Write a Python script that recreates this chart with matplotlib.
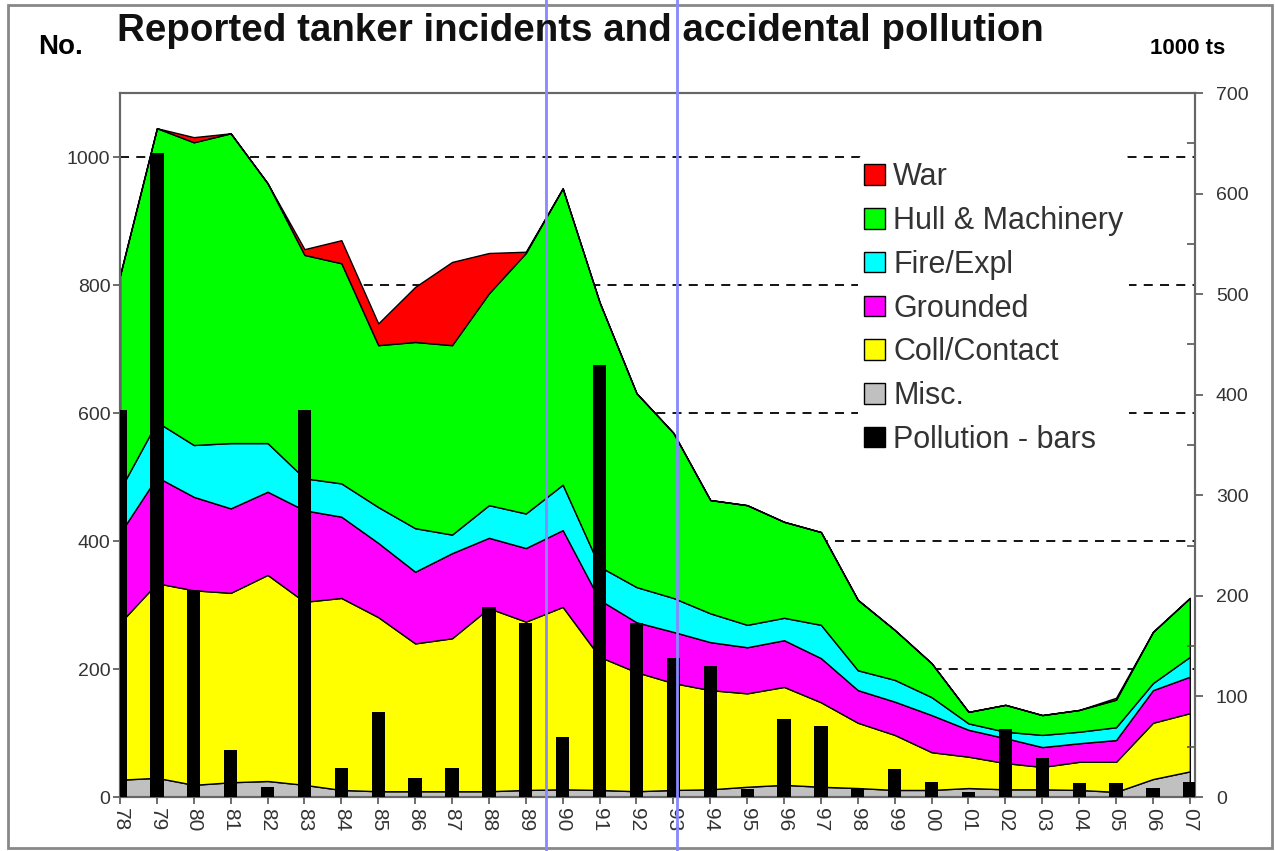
import matplotlib
matplotlib.use("Agg")
import matplotlib.pyplot as plt
from matplotlib.patches import Patch, Rectangle
from matplotlib.lines import Line2D
import numpy as np

plt.rcParams['font.family'] = ['Liberation Sans', 'DejaVu Sans']

years = ['78', '79', '80', '81', '82', '83', '84', '85', '86', '87', '88', '89', '90', '91', '92',
         '93', '94', '95', '96', '97', '98', '99', '00', '01', '02', '03', '04', '05', '06', '07']

misc = [27, 30, 19, 23, 25, 19, 11, 9, 9, 9, 9, 11, 12, 11, 9,
        11, 12, 16, 19, 16, 14, 11, 11, 14, 12, 12, 11, 8, 28, 40]
coll_contact = [245, 304, 304, 296, 322, 286, 300, 272, 231, 239, 286, 263, 285, 208, 186,
                167, 155, 146, 153, 132, 102, 86, 59, 49, 41, 35, 44, 47, 88, 91]
grounded = [140, 166, 146, 132, 130, 143, 127, 116, 112, 133, 110, 115, 120, 89, 78,
            80, 75, 72, 73, 69, 51, 52, 58, 42, 39, 31, 29, 34, 51, 57]
fire_expl = [68, 86, 81, 102, 76, 50, 52, 56, 68, 29, 51, 54, 71, 52, 55,
             53, 45, 35, 35, 52, 31, 34, 28, 10, 10, 19, 18, 20, 11, 31]
hull_machinery = [335, 459, 473, 484, 406, 349, 344, 253, 291, 296, 331, 407, 463, 413, 303,
                  258, 177, 187, 150, 145, 110, 78, 53, 18, 42, 31, 34, 43, 80, 92]
war = [0, 0, 8, 0, 0, 9, 36, 34, 86, 130, 63, 2, 0, 0, 0,
       0, 0, 0, 0, 0, 0, 0, 0, 0, 0, 0, 0, 3, 0, 0]
pollution = [385, 640, 206, 47, 10, 385, 29, 85, 19, 29, 189, 173, 60, 430, 173,
             138, 130, 8, 78, 71, 9, 28, 15, 5, 68, 39, 14, 14, 9, 15]

layer_names = ['Misc.', 'Coll/Contact', 'Grounded', 'Fire/Expl', 'Hull & Machinery', 'War']
layer_colors = ['#c0c0c0', '#ffff00', '#ff00ff', '#00ffff', '#00ff00', '#ff0000']

W, H = 1275, 851
fig = plt.figure(figsize=(W / 100, H / 100), dpi=100)

x = np.arange(len(years))
ax = fig.add_axes([120 / W, 1 - 797 / H, (1195 - 120) / W, (797 - 93) / H])
ax.stackplot(x, misc, coll_contact, grounded, fire_expl, hull_machinery, war,
             colors=layer_colors, edgecolor='black', linewidth=1.0, zorder=2)
ax.set_xlim(0, 29.14)
ax.set_ylim(0, 1100)
ax.set_yticks([0, 200, 400, 600, 800, 1000])
ax.set_axisbelow(True)
ax.yaxis.grid(True, linestyle=(0, (5, 4)), color='black', linewidth=1.3)
ax.set_xticks(x)
ax.set_xticklabels(years, rotation=-90, fontsize=15, color='#333333')
ax.tick_params(axis='y', labelsize=14, labelcolor='#333333', direction='out', length=5,
               color='#555555', width=1.2, pad=2)
ax.tick_params(axis='x', direction='out', length=5, color='#555555', width=1.2, pad=3)
for s in ax.spines.values():
    s.set_color('#666666')
    s.set_linewidth(1.5)

ax2 = ax.twinx()
ax2.bar(x, pollution, width=0.36, color='black', zorder=3)
ax2.set_ylim(0, 700)
ax2.set_yticks(np.arange(0, 701, 100))
ax2.set_yticks(np.arange(50, 700, 100), minor=True)
ax2.tick_params(axis='y', which='major', labelsize=14, labelcolor='#333333', direction='out',
                length=6, color='#555555', width=1.2, pad=9)
ax2.tick_params(axis='y', which='minor', direction='in', length=6, color='#555555', width=1.2)
for s in ax2.spines.values():
    s.set_color('#666666')
    s.set_linewidth(1.5)

handles = [Patch(facecolor=c, edgecolor='black', linewidth=1.0, label=n)
           for n, c in zip(layer_names, layer_colors)][::-1]
handles.append(Patch(facecolor='black', edgecolor='black', label='Pollution - bars'))
leg = ax2.legend(handles=handles, loc='upper left',
                 bbox_to_anchor=(843 / W, 1 - 141 / H), bbox_transform=fig.transFigure,
                 fontsize=22, frameon=True, facecolor='white', edgecolor='none',
                 framealpha=1, handlelength=0.66, handleheight=0.66, handletextpad=0.28,
                 labelspacing=0.45, borderpad=0.2, labelcolor='#333333')

fig.text(117 / W, 1 - 31 / H, 'Reported tanker incidents and accidental pollution',
         fontsize=27.7, fontweight='bold', ha='left', va='center', color='#111111')
fig.text(38 / W, 1 - 47 / H, 'No.', fontsize=20, fontweight='bold', ha='left', va='center')
fig.text(1150 / W, 1 - 48 / H, '1000 ts', fontsize=16, fontweight='bold', ha='left', va='center')

# outer frame
fig.add_artist(Rectangle((8 / W, 1 - 848 / H), (1272 - 8) / W, (848 - 5) / H,
                         transform=fig.transFigure, fill=False, edgecolor='#888888', linewidth=2))
# blue vertical markers
for xp in (546, 677):
    fig.add_artist(Line2D([xp / W, xp / W], [0, 1], transform=fig.transFigure,
                          color='#8888ff', linewidth=2))

fig.savefig('out.png', dpi=100)
